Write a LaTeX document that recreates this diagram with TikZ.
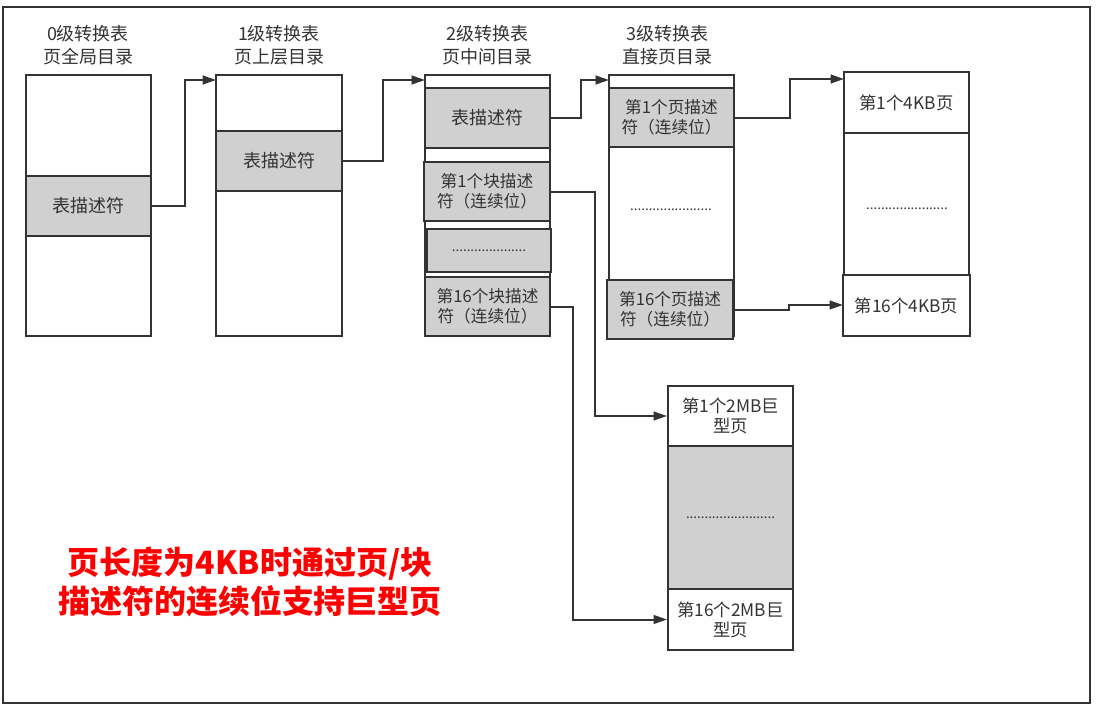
\documentclass[tikz,border=0pt]{standalone}
\usepackage{fontspec}
\setmainfont{Noto Sans CJK SC}
\usetikzlibrary{arrows.meta,calc}
\definecolor{ln}{HTML}{333333}
\definecolor{sh}{HTML}{D0D0D0}
\begin{document}
\begin{tikzpicture}[x=0.75pt,y=-0.75pt,
  sz/.style 2 args={minimum width=#1*0.75pt, minimum height=#2*0.75pt},
  box/.style={draw=ln, line width=1.5pt, inner sep=0pt, fill=white, text=ln, align=center,
     font=\fontsize{13}{15}\selectfont},
  shade/.style={box, fill=sh},
  big/.style={font=\fontsize{13.5}{16}\selectfont},
  desc/.style={font=\fontsize{12.5}{15}\selectfont},
  hdr/.style={text=ln, align=center, font=\fontsize{13.5}{17}\selectfont},
  dots/.style={text=ln, font=\fontsize{10}{10}\selectfont},
  arr/.style={draw=ln, line width=1.5pt, -{Triangle[length=10pt,width=6.5pt]}}]
\useasboundingbox (0,0) rectangle (1096,717);
\fill[white] (0,0) rectangle (1096,717);
\draw[ln, line width=1.5pt] (3,7) rectangle (1090,703);

% headers
\node[hdr] (h0) at (88,45) {0级转换表\\页全局目录};
\node[hdr] (h1) at (279,45) {1级转换表\\页上层目录};
\node[hdr] (h2) at (487,45) {2级转换表\\页中间目录};
\node[hdr] (h3) at (667,45) {3级转换表\\直接页目录};

% column 0
\node[box, sz={125}{261}] (c0) at (88.5,205.5) {};
\node[shade, big, sz={125}{60}] (c0d) at (88.5,206) {表描述符};
% column 1
\node[box, sz={126}{261}] (c1) at (279,205.5) {};
\node[shade, big, sz={126}{60}] (c1d) at (279,161) {表描述符};
% column 2
\node[box, sz={125}{261}] (c2) at (487.5,205.5) {};
\node[shade, big, sz={125}{60}] (c2d) at (487.5,118) {表描述符};
\node[shade, desc, sz={126}{59}] (c2b1) at (487,191.5) {第1个块描述\\符（连续位）};
\node[shade, dots, sz={124}{43}] (c2m) at (489,250.5) {....................};
\node[shade, desc, sz={125}{59}] (c2b16) at (487.5,306.5) {第16个块描述\\符（连续位）};
% column 3
\node[box, sz={125}{261}] (c3) at (671.5,205.5) {};
\node[shade, desc, sz={125}{59}] (c3p1) at (671.5,117.5) {第1个页描述\\符（连续位）};
\node[dots] (c3m) at (671,210) {......................};
\node[shade, desc, sz={126}{59}] (c3p16) at (670,309.5) {第16个页描述\\符（连续位）};
% 4KB pages
\node[box, sz={125}{264}] (c4) at (906.5,204) {};
\node[box, sz={125}{61}] (c4p1) at (906.5,102.5) {第1个4KB页};
\node[dots] (c4m) at (907,209) {......................};
\node[box, sz={127}{61}] (c4p16) at (906.5,305.5) {第16个4KB页};
% 2MB pages
\node[box, sz={125}{264}] (c5) at (730.5,518) {};
\node[box, sz={125}{60}] (c5p1) at (730.5,416) {第1个2MB巨\\型页};
\node[shade, dots, sz={125}{143}] (c5m) at (730.5,517.5) {........................};
\node[box, sz={125}{61}] (c5p16) at (730.5,619.5) {第16个2MB巨\\型页};

% arrow targets
\coordinate (t1) at (216,80);
\coordinate (t2) at (425,80);
\coordinate (t3) at (609,80);
\coordinate (t4) at (844,79);
\coordinate (t5) at (843,305);

% connectors
\draw[arr] (c0d.east) -- ++(33,0) |- (t1);
\draw[arr] (c1d.east) -- ++(40,0) |- (t2);
\draw[arr] (c2d.east) -- ++(30,0) |- (t3);
\draw[arr] (c3p1.east) -- ++(55,0) |- (t4);
\draw[arr] (c3p16.east) -- ++(55,0) |- (t5);
\draw[arr] (c2b1.east) -- ++(44,0) |- (c5p1.west);
\draw[arr] (c2b16.east) -- ++(22,0) |- (c5p16.west);

% caption
\node[text=red, align=center, font=\bfseries\fontsize{24}{29}\selectfont] (cap) at (250,582)
  {页长度为4KB时通过页/块\\描述符的连续位支持巨型页};
\end{tikzpicture}
\end{document}
